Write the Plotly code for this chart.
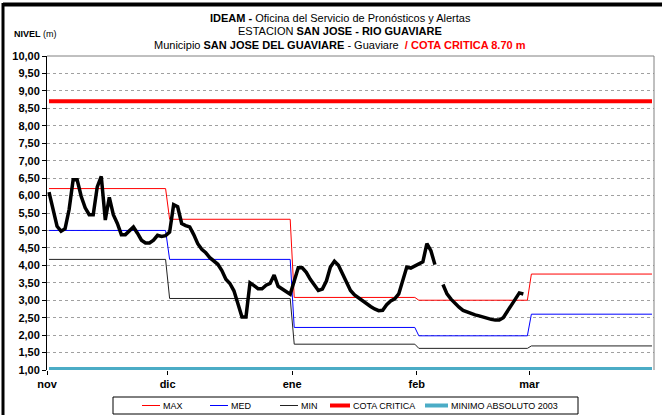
import plotly.graph_objects as go

# --- datos ---------------------------------------------------------------
meses = ["nov", "dic", "ene", "feb", "mar"]
dias_mes = [30, 31, 31, 28, 31]

# niveles de referencia mensuales (m)
nivel_max = [6.20, 5.32, 3.08, 3.00, 3.75]
nivel_med = [5.00, 4.17, 2.22, 1.98, 2.60]
nivel_min = [4.17, 3.05, 1.74, 1.62, 1.69]
cota_critica = 8.70
minimo_absoluto_2003 = 1.03

# nivel diario observado desde el 1 de noviembre (None = sin dato)
nivel_diario = [
    6.10, 5.65, 5.12, 4.98, 5.05, 5.60, 6.45, 6.45, 5.98, 5.65,
    5.45, 5.45, 6.25, 6.55, 5.30, 5.95, 5.45, 5.20, 4.88, 4.88,
    5.00, 5.10, 4.92, 4.72, 4.64, 4.64, 4.72, 4.86, 4.83, 4.85,
    4.95, 5.74, 5.68, 5.20, 5.14, 5.10, 4.88, 4.62, 4.46, 4.36,
    4.22, 4.13, 4.03, 3.85, 3.60, 3.48, 3.27, 2.90, 2.52, 2.52,
    3.50, 3.42, 3.33, 3.33, 3.43, 3.48, 3.72, 3.40, 3.33, 3.25,
    3.17, 3.55, 3.93, 3.93, 3.80, 3.60, 3.42, 3.28, 3.32, 3.55,
    3.95, 4.12, 4.00, 3.74, 3.50, 3.28, 3.15, 3.06, 2.97, 2.90,
    2.82, 2.75, 2.70, 2.71, 2.87, 2.98, 3.04, 3.18, 3.55, 3.95,
    3.92, 3.98, 4.05, 4.10, 4.62, 4.42, 4.02, None, 3.45, 3.18,
    3.03, 2.90, 2.80, 2.71, 2.66, 2.62, 2.58, 2.55, 2.51, 2.48,
    2.45, 2.43, 2.43, 2.50, 2.68, 2.85, 3.07, 3.21, 3.18,
]

# --- series diarias --------------------------------------------------------
def por_dia(valores_mes):
    serie = []
    for v, n in zip(valores_mes, dias_mes):
        serie.extend([v] * n)
    return serie

total_dias = sum(dias_mes)
dias = list(range(total_dias))
inicio_mes = [sum(dias_mes[:i]) - 0.5 for i in range(len(dias_mes))]

FONT = "Liberation Sans, Arial, sans-serif"

# dimensiones de la figura (px)
W, H = 662, 415
ML, MR, MT, MB = 47, 8, 56, 45
PW, PH = W - ML - MR, H - MT - MB


def px_x(px):
    return (px - ML) / PW


def px_y(py):
    return (H - MB - py) / PH


fig = go.Figure()

series_ref = [
    ("MAX", por_dia(nivel_max), "#ff0000", 1),
    ("MED", por_dia(nivel_med), "#0000ff", 1),
    ("MIN", por_dia(nivel_min), "#222222", 1),
    ("COTA CRITICA", [cota_critica] * total_dias, "#ff0000", 4),
    ("MINIMO ABSOLUTO 2003", [minimo_absoluto_2003] * total_dias, "#4bacc6", 4),
]
for nombre, valores, color, ancho in series_ref:
    fig.add_trace(go.Scatter(x=dias, y=valores, name=nombre, mode="lines",
                             line=dict(color=color, width=ancho)))

fig.add_trace(go.Scatter(x=list(range(len(nivel_diario))), y=nivel_diario,
                         name="NIVEL", mode="lines", connectgaps=False,
                         line=dict(color="#000000", width=3.5)))

fig.update_layout(
    width=W, height=H,
    margin=dict(l=ML, r=MR, t=MT, b=MB, autoexpand=False),
    paper_bgcolor="white", plot_bgcolor="white",
    separators=",.",
    showlegend=False,
    xaxis=dict(range=[-0.5, total_dias - 0.5], tickmode="array",
               tickvals=inicio_mes, ticktext=meses,
               ticks="outside", ticklen=4, tickcolor="#000000",
               showgrid=False, zeroline=False, showline=False,
               tickfont=dict(family=FONT, size=11, color="#000000", weight="bold")),
    yaxis=dict(range=[1, 10], dtick=0.5, tick0=1, tickformat=".2f",
               ticks="outside", ticklen=4, tickcolor="#000000",
               showline=True, linecolor="#000000", linewidth=1,
               showgrid=True, gridcolor="#a0a0a0", griddash="dot", gridwidth=1,
               zeroline=False,
               tickfont=dict(family=FONT, size=11, color="#000000", weight="bold")),
)

# borde superior y derecho del área de trazado
fig.add_shape(type="line", xref="paper", yref="paper", x0=0, x1=1, y0=1, y1=1,
              line=dict(color="#808080", width=1))
fig.add_shape(type="line", xref="paper", yref="paper", x0=1, x1=1, y0=0, y1=1,
              line=dict(color="#808080", width=1))

# marco exterior del gráfico
fig.add_shape(type="line", xref="paper", yref="paper", x0=px_x(3), x1=px_x(662),
              y0=px_y(4.5), y1=px_y(4.5), line=dict(color="#000000", width=4))
fig.add_shape(type="line", xref="paper", yref="paper", x0=px_x(3), x1=px_x(3),
              y0=px_y(415), y1=px_y(3), line=dict(color="#000000", width=3))

# leyenda en una fila con recuadro
fig.add_shape(type="rect", xref="paper", yref="paper",
              x0=px_x(113), x1=px_x(578), y0=px_y(414), y1=px_y(397),
              line=dict(color="#000000", width=1), fillcolor="white", layer="above")
pos_leyenda = [142, 210, 280, 330, 425]   # inicio de cada muestra (px)
largo_muestra = [18, 18, 18, 20, 23]
y_ley = px_y(405.5)
for (nombre, _, color, ancho), x0, largo in zip(series_ref, pos_leyenda, largo_muestra):
    fig.add_shape(type="line", xref="paper", yref="paper",
                  x0=px_x(x0), x1=px_x(x0 + largo), y0=y_ley, y1=y_ley,
                  line=dict(color=color, width=ancho), layer="above")
    fig.add_annotation(text=nombre, xref="paper", yref="paper",
                       x=px_x(x0 + largo + 1), y=y_ley, xanchor="left",
                       yanchor="middle", showarrow=False,
                       font=dict(family=FONT, size=9, color="#000000"))

# títulos
titulos = [
    ("<b>IDEAM -</b> Oficina del Servicio de Pronósticos y Alertas", 18),
    ("ESTACION <b>SAN JOSE - RIO GUAVIARE</b>", 31),
    ("Municipio <b>SAN JOSE DEL GUAVIARE</b> - Guaviare  "
     "<span style='color:#ff0000'><b>/ COTA CRITICA 8.70 m</b></span>", 45),
]
for texto, py in titulos:
    fig.add_annotation(text=texto, xref="paper", yref="paper", x=px_x(340), y=px_y(py),
                       xanchor="center", yanchor="middle", showarrow=False,
                       font=dict(family=FONT, size=11, color="#000000"))

fig.add_annotation(text="<b>NIVEL</b> (m)", xref="paper", yref="paper",
                   x=px_x(12), y=px_y(34), xanchor="left", yanchor="middle",
                   showarrow=False, font=dict(family=FONT, size=9, color="#000000"))

fig.write_html("out.html")
